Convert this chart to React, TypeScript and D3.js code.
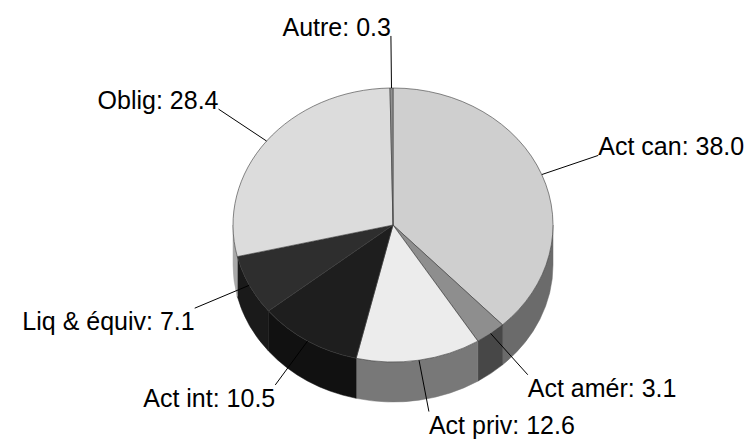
import React from 'react';
import * as d3 from 'd3';

const labels = ['Act can', 'Act amér', 'Act priv', 'Act int', 'Liq & équiv', 'Oblig', 'Autre'];
const values = [38.0, 3.1, 12.6, 10.5, 7.1, 28.4, 0.3];

const topColors = ['#cfcfcf', '#8e8e8e', '#ececec', '#1e1e1e', '#2e2e2e', '#dcdcdc', '#909090'];
const sideColors = ['#6b6b6b', '#474747', '#787878', '#111111', '#1a1a1a', '#a8a8a8', '#606060'];

const width = 755;
const height = 445;

const App: React.FC = () => {
  const cx = 393;
  const cy = 225;
  const rx = 160;
  const ry = 137;
  const depth = 40;
  const labelK = 1.38;

  const pie = d3.pie<number>().sort(null).value(d => d);
  const arcs = pie(values);

  const pt = (a: number, k = 1): [number, number] => [
    cx + rx * k * Math.sin(a),
    cy - ry * k * Math.cos(a),
  ];

  const topPath = (a0: number, a1: number) => {
    const [x0, y0] = pt(a0);
    const [x1, y1] = pt(a1);
    const large = a1 - a0 > Math.PI ? 1 : 0;
    return `M${cx},${cy}L${x0},${y0}A${rx},${ry} 0 ${large} 1 ${x1},${y1}Z`;
  };

  // visible outer wall: only the front half (90deg..270deg)
  const wallPath = (a0: number, a1: number) => {
    const s = Math.max(a0, Math.PI / 2);
    const e = Math.min(a1, (3 * Math.PI) / 2);
    if (e <= s) return null;
    const [x0, y0] = pt(s);
    const [x1, y1] = pt(e);
    return `M${x0},${y0}A${rx},${ry} 0 0 1 ${x1},${y1}L${x1},${y1 + depth}A${rx},${ry} 0 0 0 ${x0},${y0 + depth}Z`;
  };

  return (
    <svg
      width={width}
      height={height}
      style={{ position: 'absolute', left: 0, top: 0, background: '#fff' }}
      fontFamily="'Liberation Sans', Arial, sans-serif"
    >
      {/* side walls */}
      <g>
        {arcs.map((d, i) => {
          const p = wallPath(d.startAngle, d.endAngle);
          if (!p) return null;
          return <path key={i} d={p} fill={sideColors[i]} stroke={sideColors[i]} strokeWidth={0.5} />;
        })}
      </g>
      {/* top faces */}
      <g>
        {arcs.map((d, i) => (
          <path
            key={i}
            d={topPath(d.startAngle, d.endAngle)}
            fill={topColors[i]}
            stroke="#3a3a3a"
            strokeWidth={0.6}
            strokeLinejoin="round"
          />
        ))}
      </g>
      {/* leader lines + labels */}
      <g>
        {arcs.map((d, i) => {
          const mid = (d.startAngle + d.endAngle) / 2;
          const [ax, ay] = pt(mid);
          const [lx, ly] = pt(mid, labelK);
          const upper = Math.cos(mid) > 0;
          const right = Math.sin(mid) >= 0;
          return (
            <g key={i}>
              <line x1={ax} y1={ay} x2={lx} y2={ly} stroke="#000" strokeWidth={1} />
              <text
                x={lx}
                y={upper ? ly : ly + 22}
                textAnchor={right ? 'start' : 'end'}
                fontSize={25}
                fill="#000"
              >
                {`${labels[i]}: ${values[i].toFixed(1)}`}
              </text>
            </g>
          );
        })}
      </g>
    </svg>
  );
};

export default App;
